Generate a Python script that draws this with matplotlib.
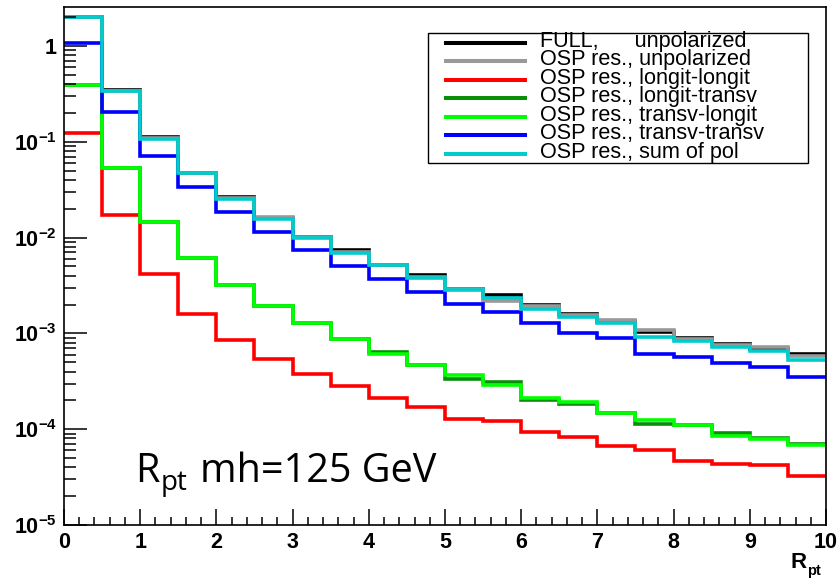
import numpy as np
import matplotlib
matplotlib.use("Agg")
import matplotlib.pyplot as plt
from matplotlib.lines import Line2D
from matplotlib.patches import Rectangle
from matplotlib.ticker import FuncFormatter, LogLocator, MultipleLocator, NullFormatter

# R_pt distributions, mh = 125 GeV, 20 bins of width 0.5
r_pt_edges = np.linspace(0.0, 10.0, 21)

full_unpol = [2.01, 0.347, 0.113, 0.0477, 0.0266, 0.0161, 0.0102, 0.00738, 0.00521, 0.00404,
              0.00292, 0.00250, 0.00200, 0.00161, 0.00134, 0.00103, 0.000904, 0.000782, 0.000690, 0.000605]
osp_unpol = [2.01, 0.343, 0.109, 0.0477, 0.0258, 0.0164, 0.0101, 0.00713, 0.00515, 0.00390,
             0.00289, 0.00219, 0.00192, 0.00155, 0.00139, 0.00108, 0.000868, 0.000751, 0.000721, 0.000581]
osp_ll = [0.123, 0.0174, 0.00422, 0.00161, 0.000861, 0.000536, 0.000380, 0.000285, 0.000210, 0.000170,
          0.000129, 0.000121, 9.33e-05, 8.26e-05, 6.73e-05, 6.11e-05, 4.61e-05, 4.36e-05, 4.19e-05, 3.24e-05]
osp_lt = [0.391, 0.0535, 0.0146, 0.00609, 0.00318, 0.00192, 0.00127, 0.000868, 0.000642, 0.000470,
          0.000334, 0.000308, 0.000203, 0.000185, 0.000147, 0.000114, 0.000110, 9.19e-05, 8.11e-05, 6.93e-05]
osp_tl = [0.391, 0.0535, 0.0146, 0.00609, 0.00318, 0.00192, 0.00127, 0.000868, 0.000605, 0.000470,
          0.000365, 0.000292, 0.000211, 0.000194, 0.000147, 0.000124, 0.000110, 8.48e-05, 7.89e-05, 6.89e-05]
osp_tt = [1.08, 0.206, 0.0714, 0.0339, 0.0186, 0.0114, 0.00738, 0.00502, 0.00367, 0.00272,
          0.00205, 0.00167, 0.00130, 0.00101, 0.000889, 0.000615, 0.000567, 0.000495, 0.000448, 0.000354]
osp_sum = [2.00, 0.339, 0.106, 0.0468, 0.0252, 0.0157, 0.0100, 0.00699, 0.00515, 0.00383,
           0.00287, 0.00236, 0.00182, 0.00148, 0.00127, 0.000917, 0.000833, 0.000721, 0.000655, 0.000530]

labels = [
    "FULL,      unpolarized",
    "OSP res., unpolarized",
    "OSP res., longit-longit",
    "OSP res., longit-transv",
    "OSP res., transv-longit",
    "OSP res., transv-transv",
    "OSP res., sum of pol",
]
colors = ["#000000", "#999999", "#ff0000", "#078f07", "#00ff00", "#0000ff", "#00cccc"]
series = [full_unpol, osp_unpol, osp_ll, osp_lt, osp_tl, osp_tt, osp_sum]

W, H = 839, 581
LW = 2.6


def px(x, y):
    # pixel position -> figure fraction
    return x / W, 1 - y / H


plt.rcParams["font.family"] = ["Liberation Sans", "DejaVu Sans"]
plt.rcParams["mathtext.fontset"] = "custom"
plt.rcParams["mathtext.bf"] = "Liberation Sans:bold"
plt.rcParams["mathtext.rm"] = "Liberation Sans:bold"

fig = plt.figure(figsize=(W / 100, H / 100), dpi=100)
x0, y0 = px(64, 525)
x1, y1 = px(826, 7)
ax = fig.add_axes([x0, y0, x1 - x0, y1 - y0])

for vals, col in zip(series, colors):
    ax.stairs(vals, r_pt_edges, baseline=None, color=col, linewidth=LW)

ax.set_xlim(0, 10)
ax.set_yscale("log")
ax.set_ylim(1e-5, 2.556)

for s in ax.spines.values():
    s.set_linewidth(1.2)

ax.xaxis.set_major_locator(MultipleLocator(1))
ax.xaxis.set_minor_locator(MultipleLocator(0.2))
ax.yaxis.set_major_locator(LogLocator(base=10, numticks=10))
ax.yaxis.set_minor_locator(LogLocator(base=10, subs=np.arange(2, 10), numticks=20))
ax.yaxis.set_minor_formatter(NullFormatter())


def ylab(v, pos):
    e = int(round(np.log10(v)))
    if e == 0:
        return "1"
    return r"$\mathbf{10^{%d}}$" % e


ax.yaxis.set_major_formatter(FuncFormatter(ylab))
ax.xaxis.set_major_formatter(FuncFormatter(lambda v, p: "%d" % v))

ax.tick_params(axis="x", which="major", direction="in", length=11.5, width=1.1,
               labelsize=15.5, pad=5, top=False)
ax.tick_params(axis="x", which="minor", direction="in", length=5.8, width=1.1, top=False)
ax.tick_params(axis="y", which="major", direction="in", length=16.5, width=1.1,
               labelsize=15.5, pad=5, right=False)
ax.tick_params(axis="y", which="minor", direction="in", length=8.6, width=1.1, right=False)
for t in ax.get_xticklabels() + ax.get_yticklabels():
    t.set_fontweight("bold")

# axis title R_pt at the lower right
fig.text(*px(791, 568), "R", fontsize=16, fontweight="bold", va="baseline")
fig.text(*px(807.5, 575), "pt", fontsize=10.5, fontweight="bold", va="baseline")

# legend box
lx0, ly0, lx1, ly1 = 428, 33, 808, 163
fx0, fy1 = px(lx0, ly0)
fx1, fy0 = px(lx1, ly1)
fig.patches.append(Rectangle((fx0, fy0), fx1 - fx0, fy1 - fy0, transform=fig.transFigure,
                             facecolor="white", edgecolor="black", linewidth=1.0, zorder=5))
row_h = 18.55
for i, (lab, col) in enumerate(zip(labels, colors)):
    yy = 42.7 + i * row_h
    a, b = px(446, yy)
    c, _ = px(525, yy)
    fig.lines.append(Line2D([a, c], [b, b], transform=fig.transFigure, color=col,
                            linewidth=2.9, zorder=6))
    tx, ty = px(540, yy - 1.5)
    fig.text(tx, ty, lab, fontsize=15.6, va="center", ha="left", zorder=7)

# plot annotation
fig.text(*px(135, 482), "R", fontfamily="Open Sans", fontsize=28.5, va="baseline")
fig.text(*px(161, 490), "pt", fontfamily="Open Sans", fontsize=20, va="baseline")
fig.text(*px(200, 482), "mh=125 GeV", fontfamily="Open Sans", fontsize=28.5, va="baseline")

fig.savefig("out.png", dpi=100)
